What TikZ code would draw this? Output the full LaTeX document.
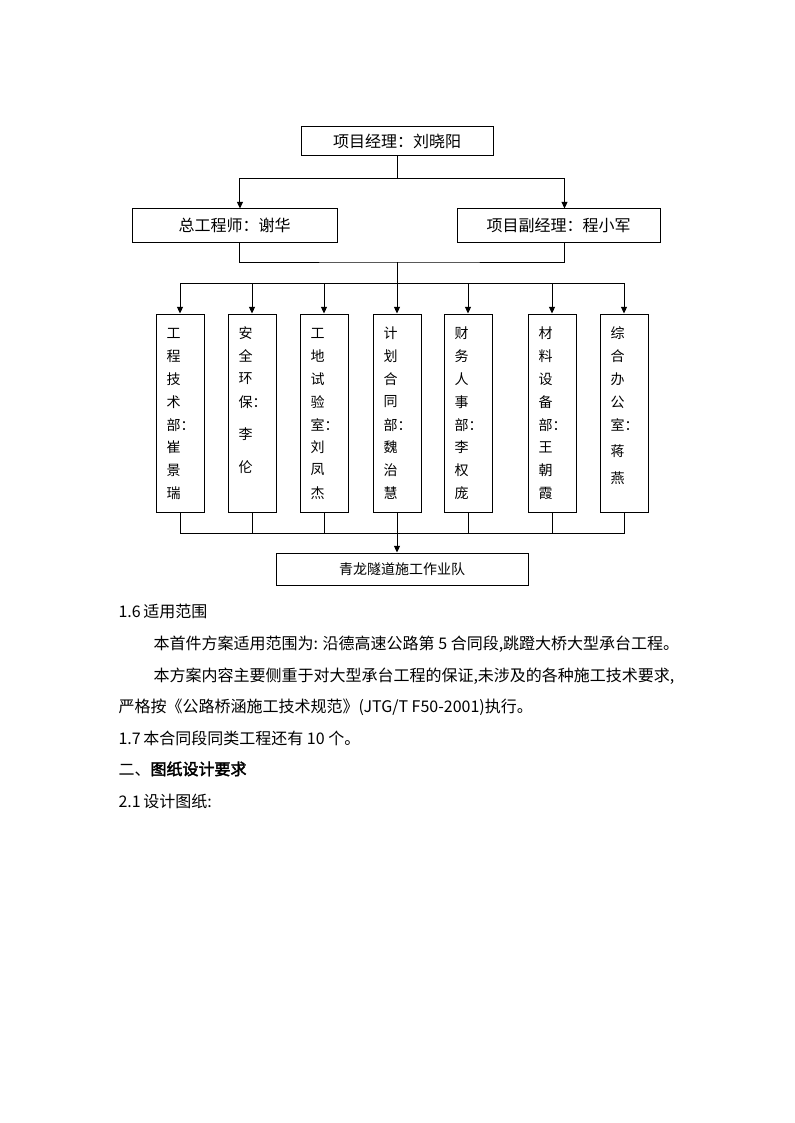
\documentclass[tikz,border=0pt]{standalone}
\usepackage{fontspec}
\setmainfont{Noto Sans CJK SC}
\newfontfamily\cjkbold[FakeBold=2.5]{Noto Sans CJK SC}
\usetikzlibrary{positioning, arrows.meta}

\begin{document}
\begin{tikzpicture}[x=0.75pt, y=-0.75pt, line width=0.75pt,
    box/.style={draw, inner sep=0pt, font=\fontsize{12pt}{14pt}\selectfont},
    deptbox/.style={draw, minimum width=36pt, minimum height=148.5pt, inner sep=0pt},
    vchar/.style={anchor=west, inner sep=0pt, font=\fontsize{10.5pt}{12pt}\selectfont},
    arr/.style={-{Triangle[length=5pt,width=4.5pt]}},
    bodytext/.style={anchor=base west, inner sep=0pt, font=\fontsize{12pt}{14pt}\selectfont}]

\fill[white] (0,0) rectangle (794,1123);
\useasboundingbox (0,0) rectangle (794,1123);

% ---- Direccio ----
\node[box, minimum width=144pt, minimum height=21.75pt] (mgr) at (397,141.5) {项目经理：刘晓阳};
\node[box, minimum width=153.75pt, minimum height=24.75pt] (chief) at (234.5,225.5) {总工程师：谢华};
\node[box, minimum width=152.25pt, minimum height=24.75pt] (deputy) at (558.5,225.5) {项目副经理：程小军};

% ---- Departaments ----
\foreach \n/\x in {1/180,2/252,3/324,4/397,5/468,6/552,7/624}
    \node[deptbox] (d\n) at (\x,413) {};

% text vertical
\foreach \n/\x/\chars in {
    1/180/{工/333,程/356,技/379,术/402,部：/425,崔/447,景/470,瑞/493},
    2/252/{安/333,全/356,环/379,保：/402,李/434,伦/467},
    3/324/{工/333,地/356,试/379,验/402,室：/425,刘/447,凤/470,杰/493},
    4/397/{计/333,划/356,合/379,同/402,部：/425,魏/447,治/470,慧/493},
    5/468/{财/333,务/356,人/379,事/402,部：/425,李/447,权/470,庞/493},
    6/552/{材/333,料/356,设/379,备/402,部：/425,王/447,朝/470,霞/493},
    7/624/{综/333,合/356,办/379,公/402,室：/425,蒋/451,燕/478}}
    \foreach \c/\y [count=\i] in \chars
        \node[vchar] (t\n-\i) at (\x-14,\y) {\c};

% ---- Equip ----
\node[box, minimum width=189pt, minimum height=24pt, font=\fontsize{10.5pt}{12pt}\selectfont] (team) at (402,569) {青龙隧道施工作业队};

% ---- Connexions ----
\coordinate (j1) at (397,179);
\coordinate (j2) at (397,262);
\coordinate (j3) at (397,283);
\coordinate (j4) at (397,533);
\draw (mgr.south) -- (j1);
\draw[arr] (j1) -| ([xshift=4.1pt]chief.north);
\draw[arr] (j1) -| ([xshift=4.5pt]deputy.north);
\draw ([xshift=4.1pt]chief.south) |- (j2) -| ([xshift=4.5pt]deputy.south);
\draw (j2) -- (j3);
\foreach \n in {1,...,7}
    \draw[arr] (j3) -| (d\n.north);
\foreach \n in {1,...,7}
    \draw (d\n.south) |- (j4);
\draw[arr] (j4) -- (j4 |- team.north);

% ---- Text ----
\node[bodytext] (p1) at (118,617) {1.6\,适用范围};
\node[bodytext] (p2) at (153,649) {本首件方案适用范围为: 沿德高速公路第 5 合同段,跳蹬大桥大型承台工程。};
\node[bodytext] (p3) at (153,681) {本方案内容主要侧重于对大型承台工程的保证,未涉及的各种施工技术要求,};
\node[bodytext] (p4) at (118,712) {严格按《公路桥涵施工技术规范》(JTG/T F50-2001)执行。};
\node[bodytext] (p5) at (118,744) {1.7\,本合同段同类工程还有 10 个。};
\node[bodytext] (p6) at (118,775) {二、{\cjkbold 图纸设计要求}};
\node[bodytext] (p7) at (118,807) {2.1\,设计图纸:};

\end{tikzpicture}
\end{document}
